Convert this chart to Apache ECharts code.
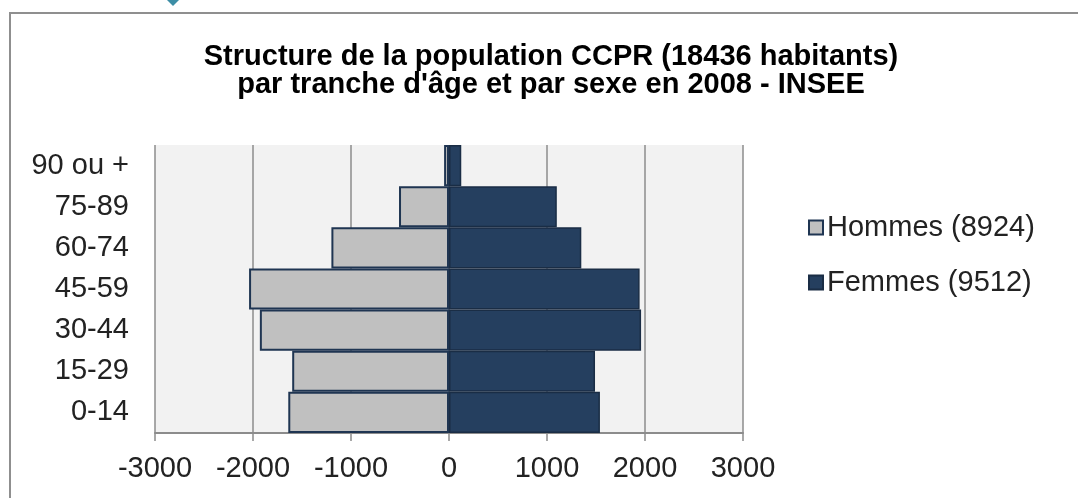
<!DOCTYPE html>
<html>
<head>
<meta charset="utf-8">
<script src="https://cdn.jsdelivr.net/npm/echarts@6/dist/echarts.min.js"></script>
<style>
  html, body { margin: 0; padding: 0; background: #fff; }
  #main { width: 1078px; height: 498px; }
</style>
</head>
<body>
<div id="main"></div>
<script>
// tranches d'âge (du bas vers le haut)
var tranches = ['0-14', '15-29', '30-44', '45-59', '60-74', '75-89', '90 ou +'];
// hommes en négatif pour la pyramide
var hommes = [-1640, -1600, -1930, -2040, -1200, -510, -50];
var femmes = [1540, 1490, 1960, 1945, 1350, 1100, 125];
var graduations = [-3000, 3000, 1000];

var myChart = echarts.init(document.getElementById('main'));

var police = 'Liberation Sans, Arial, sans-serif';

var option = {
  backgroundColor: '#fff',
  animation: false,
  title: {
    text: "Structure de la population CCPR (18436 habitants)\npar tranche d'âge et par sexe en 2008 - INSEE",
    left: 551,
    top: 43,
    padding: 0,
    textAlign: 'center',
    textStyle: {
      fontFamily: police,
      fontSize: 29,
      fontWeight: 'bold',
      color: '#000',
      lineHeight: 28
    }
  },
  graphic: [
    {
      // cadre autour du graphique
      type: 'rect',
      shape: { x: 10, y: 13, width: 1100, height: 520 },
      style: { fill: 'none', stroke: '#8f8f8f', lineWidth: 2 },
      z: -1
    },
    {
      type: 'polygon',
      shape: { points: [[165, -2], [173, -10], [181, -2], [173, 6]] },
      style: { fill: '#3d8ea6' }
    }
  ],
  legend: {
    orient: 'vertical',
    left: 808,
    top: 213,
    padding: 0,
    icon: 'rect',
    itemWidth: 14,
    itemHeight: 14,
    itemGap: 26,
    textStyle: {
      fontFamily: police,
      fontSize: 29,
      color: '#222',
      padding: [0, 0, 0, -1]
    },
    data: ['Hommes (8924)', 'Femmes (9512)']
  },
  grid: {
    left: 155,
    right: 335,
    top: 145,
    bottom: 65,
    show: true,
    backgroundColor: '#f2f2f2',
    borderWidth: 0
  },
  xAxis: {
    type: 'value',
    min: graduations[0],
    max: graduations[1],
    interval: graduations[2],
    axisLine: { show: true, onZero: false, lineStyle: { color: '#8c8c8c', width: 2 } },
    axisTick: { show: true, length: 8, lineStyle: { color: '#8c8c8c', width: 1.5 } },
    splitLine: { show: true, lineStyle: { color: '#8c8c8c', width: 1.5 } },
    axisLabel: {
      fontFamily: police,
      fontSize: 29,
      color: '#222',
      margin: 21,
      formatter: function (v) { return String(v); }
    }
  },
  yAxis: {
    type: 'category',
    data: tranches,
    axisLine: { show: false, onZero: false },
    axisTick: { show: false },
    axisLabel: {
      fontFamily: police,
      fontSize: 29,
      color: '#222',
      margin: 26
    }
  },
  series: [
    {
      name: 'Hommes (8924)',
      type: 'bar',
      data: hommes,
      barGap: '-100%',
      barCategoryGap: '0%',
      itemStyle: { color: '#c0c0c0', borderColor: '#1f3552', borderWidth: 2 }
    },
    {
      name: 'Femmes (9512)',
      type: 'bar',
      data: femmes,
      barGap: '-100%',
      barCategoryGap: '0%',
      itemStyle: { color: '#253f5f', borderColor: '#1a2d45', borderWidth: 1.5 }
    }
  ]
};

myChart.setOption(option);
</script>
</body>
</html>
